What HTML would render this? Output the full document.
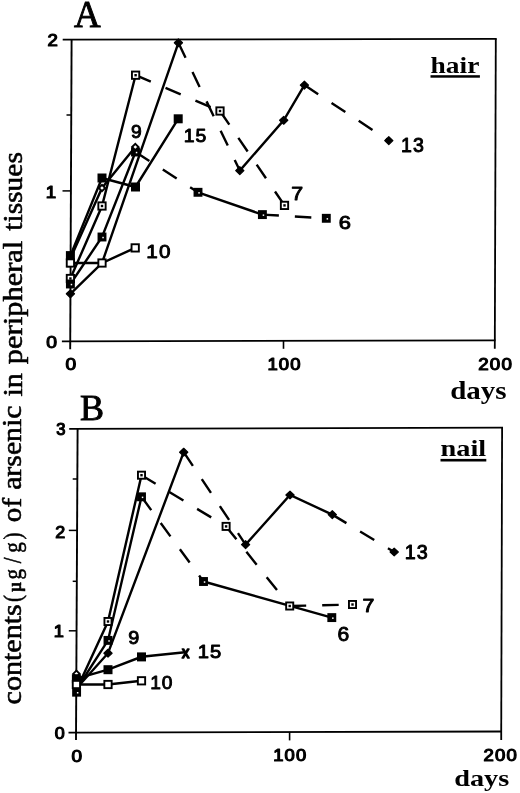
<!DOCTYPE html>
<html lang="en">
<head>
<meta charset="utf-8">
<title>Contents of arsenic in peripheral tissues</title>
<style>
html,body{margin:0;padding:0;background:#fff;}
body{width:520px;height:793px;overflow:hidden;font-family:"Liberation Sans",sans-serif;}
svg{display:block;}
svg text{fill:#000;}
</style>
</head>
<body>
<svg width="520" height="793" viewBox="0 0 520 793">
<rect x="0" y="0" width="520" height="793" fill="#fff"/>
<g stroke="#000" stroke-linecap="butt" fill="none">
<line x1="71.6" y1="39.6" x2="70.2" y2="349.3" stroke-width="1.9"/>
<line x1="62.7" y1="39.7" x2="496.7" y2="38.8" stroke-width="1.8"/>
<line x1="495.8" y1="38.8" x2="494.8" y2="348.8" stroke-width="1.8"/>
<line x1="61.9" y1="341.4" x2="495.5" y2="340.4" stroke-width="1.8"/>
<line x1="62.5" y1="190.9" x2="71" y2="190.9" stroke-width="1.5"/>
<line x1="66.5" y1="115" x2="71" y2="115" stroke-width="1.5"/>
<line x1="66.5" y1="266.5" x2="71" y2="266.5" stroke-width="1.5"/>
<line x1="283.5" y1="340.8" x2="283.5" y2="348.8" stroke-width="1.6"/>
<line x1="77.6" y1="428.6" x2="76.0" y2="740.0" stroke-width="1.9"/>
<line x1="69.2" y1="428.8" x2="503.0" y2="427.7" stroke-width="1.8"/>
<line x1="502.1" y1="427.7" x2="501.2" y2="739.9" stroke-width="1.8"/>
<line x1="68.5" y1="732.7" x2="501.3" y2="731.5" stroke-width="1.8"/>
<line x1="68.8" y1="530.4" x2="77" y2="530.4" stroke-width="1.5"/>
<line x1="68.8" y1="630.8" x2="77" y2="630.8" stroke-width="1.5"/>
<line x1="72.7" y1="479.0" x2="77" y2="479.0" stroke-width="1.5"/>
<line x1="72.7" y1="581.3" x2="77" y2="581.3" stroke-width="1.5"/>
<line x1="72.7" y1="682.0" x2="77" y2="682.0" stroke-width="1.5"/>
<line x1="289.6" y1="731.9" x2="289.6" y2="740.4" stroke-width="1.6"/>
<polyline points="70.4,255.6 102,178 135.5,187 178.2,118.8" fill="none" stroke-width="2.4"/>
<polyline points="70.4,263 102,263 135.2,247.9" fill="none" stroke-width="2.4"/>
<polyline points="70.4,278.5 102,206 135.6,75.2" fill="none" stroke-width="2.4"/>
<polyline points="135.6,75.2 220,111" fill="none" stroke-width="2.4" stroke-dasharray="16.5 16"/>
<polyline points="220,111 284.5,205.4" fill="none" stroke-width="2.4" stroke-dasharray="16.5 16"/>
<polyline points="70.4,284 102,237 135.5,152" fill="none" stroke-width="2.4"/>
<polyline points="135.5,152 198,192.3" fill="none" stroke-width="2.4" stroke-dasharray="16.5 16"/>
<polyline points="198,192.3 262.4,214.6" fill="none" stroke-width="2.4"/>
<polyline points="262.4,214.6 326.3,218.3" fill="none" stroke-width="2.4" stroke-dasharray="16.5 16"/>
<polyline points="70.4,258.5 102,188 135.3,147" fill="none" stroke-width="2.4"/>
<polyline points="70.4,293.8 102,263 178.4,42.8" fill="none" stroke-width="2.4"/>
<polyline points="178.4,42.8 239.8,170.6" fill="none" stroke-width="2.4" stroke-dasharray="16.5 16"/>
<polyline points="239.8,170.6 283.7,120.3 304.4,85.1" fill="none" stroke-width="2.4"/>
<polyline points="304.4,85.1 388.8,140.6" fill="none" stroke-width="2.4" stroke-dasharray="16.5 16"/>
<polygon points="66.30,293.8 70.4,289.90 74.50,293.8 70.4,297.70" fill="#000" stroke="#000" stroke-width="1.2" stroke-linejoin="round"/>
<polygon points="174.30,42.8 178.4,38.90 182.50,42.8 178.4,46.70" fill="#000" stroke="#000" stroke-width="1.2" stroke-linejoin="round"/>
<polygon points="235.70,170.6 239.8,166.70 243.90,170.6 239.8,174.50" fill="#000" stroke="#000" stroke-width="1.2" stroke-linejoin="round"/>
<polygon points="279.60,120.3 283.7,116.40 287.80,120.3 283.7,124.20" fill="#000" stroke="#000" stroke-width="1.2" stroke-linejoin="round"/>
<polygon points="300.30,85.1 304.4,81.20 308.50,85.1 304.4,89.00" fill="#000" stroke="#000" stroke-width="1.2" stroke-linejoin="round"/>
<polygon points="384.70,140.6 388.8,136.70 392.90,140.6 388.8,144.50" fill="#000" stroke="#000" stroke-width="1.2" stroke-linejoin="round"/>
<rect x="66.75" y="274.85" width="7.30" height="7.30" fill="#fff" stroke-width="1.9"/>
<rect x="69.20" y="277.30" width="2.4" height="2.4" fill="#000" stroke="none"/>
<rect x="98.35" y="202.35" width="7.30" height="7.30" fill="#fff" stroke-width="1.9"/>
<rect x="100.80" y="204.80" width="2.4" height="2.4" fill="#000" stroke="none"/>
<rect x="131.95" y="71.55" width="7.30" height="7.30" fill="#fff" stroke-width="1.9"/>
<rect x="134.40" y="74.00" width="2.4" height="2.4" fill="#000" stroke="none"/>
<rect x="216.35" y="107.35" width="7.30" height="7.30" fill="#fff" stroke-width="1.9"/>
<rect x="218.80" y="109.80" width="2.4" height="2.4" fill="#000" stroke="none"/>
<rect x="280.85" y="201.75" width="7.30" height="7.30" fill="#fff" stroke-width="1.9"/>
<rect x="283.30" y="204.20" width="2.4" height="2.4" fill="#000" stroke="none"/>
<rect x="65.95" y="279.55" width="8.9" height="8.9" fill="#000" stroke="none"/>
<rect x="70.70" y="283.80" width="1.5" height="1.5" fill="#fff" stroke="none"/>
<rect x="97.55" y="232.55" width="8.9" height="8.9" fill="#000" stroke="none"/>
<rect x="102.30" y="236.80" width="1.5" height="1.5" fill="#fff" stroke="none"/>
<rect x="131.05" y="147.55" width="8.9" height="8.9" fill="#000" stroke="none"/>
<rect x="135.80" y="151.80" width="1.5" height="1.5" fill="#fff" stroke="none"/>
<rect x="193.55" y="187.85" width="8.9" height="8.9" fill="#000" stroke="none"/>
<rect x="198.30" y="192.10" width="1.5" height="1.5" fill="#fff" stroke="none"/>
<rect x="257.95" y="210.15" width="8.9" height="8.9" fill="#000" stroke="none"/>
<rect x="262.70" y="214.40" width="1.5" height="1.5" fill="#fff" stroke="none"/>
<rect x="321.85" y="213.85" width="8.9" height="8.9" fill="#000" stroke="none"/>
<rect x="326.60" y="218.10" width="1.5" height="1.5" fill="#fff" stroke="none"/>
<polygon points="98.8,188 102,184.8 105.2,188 102,191.2" fill="#fff" stroke-width="1.9"/>
<polygon points="132.10000000000002,147 135.3,143.8 138.5,147 135.3,150.2" fill="#fff" stroke-width="1.9"/>
<rect x="65.90" y="251.10" width="9.0" height="9.0" fill="#000" stroke="none"/>
<rect x="97.50" y="173.50" width="9.0" height="9.0" fill="#000" stroke="none"/>
<rect x="131.00" y="182.50" width="9.0" height="9.0" fill="#000" stroke="none"/>
<rect x="173.70" y="114.30" width="9.0" height="9.0" fill="#000" stroke="none"/>
<rect x="66.75" y="259.35" width="7.30" height="7.30" fill="#fff" stroke-width="1.9"/>
<rect x="98.35" y="259.35" width="7.30" height="7.30" fill="#fff" stroke-width="1.9"/>
<rect x="131.55" y="244.25" width="7.30" height="7.30" fill="#fff" stroke-width="1.9"/>
<polyline points="76.4,678.7 108,669.7 141.5,656.8 185,652.3" fill="none" stroke-width="2.4"/>
<polyline points="76.4,684.5 108,684.5 141.5,680.8" fill="none" stroke-width="2.4"/>
<polyline points="76.4,690 108,621.5 141.5,475.2" fill="none" stroke-width="2.4"/>
<polyline points="141.5,475.2 226.1,526.4" fill="none" stroke-width="2.4" stroke-dasharray="16.5 16"/>
<polyline points="226.1,526.4 289.7,606" fill="none" stroke-width="2.4" stroke-dasharray="16.5 16"/>
<polyline points="289.7,606 352.5,604.5" fill="none" stroke-width="2.4" stroke-dasharray="16.5 16"/>
<polyline points="76.4,689.5 108,640.4 141.5,496.8" fill="none" stroke-width="2.4"/>
<polyline points="141.5,496.8 203.5,581.5" fill="none" stroke-width="2.4" stroke-dasharray="16.5 16"/>
<polyline points="203.5,581.5 331.8,617.6" fill="none" stroke-width="2.4"/>
<polyline points="76.4,688.5 108,653.2 183.7,452.2" fill="none" stroke-width="2.4"/>
<polyline points="183.7,452.2 245.6,544.6" fill="none" stroke-width="2.4" stroke-dasharray="16.5 16"/>
<polyline points="245.6,544.6 290,495 332.3,514.6" fill="none" stroke-width="2.4"/>
<polyline points="332.3,514.6 394.2,552" fill="none" stroke-width="2.4" stroke-dasharray="16.5 16"/>
<polygon points="103.90,653.2 108,649.30 112.10,653.2 108,657.10" fill="#000" stroke="#000" stroke-width="1.2" stroke-linejoin="round"/>
<polygon points="179.60,452.2 183.7,448.30 187.80,452.2 183.7,456.10" fill="#000" stroke="#000" stroke-width="1.2" stroke-linejoin="round"/>
<polygon points="241.50,544.6 245.6,540.70 249.70,544.6 245.6,548.50" fill="#000" stroke="#000" stroke-width="1.2" stroke-linejoin="round"/>
<polygon points="285.90,495 290,491.10 294.10,495 290,498.90" fill="#000" stroke="#000" stroke-width="1.2" stroke-linejoin="round"/>
<polygon points="328.20,514.6 332.3,510.70 336.40,514.6 332.3,518.50" fill="#000" stroke="#000" stroke-width="1.2" stroke-linejoin="round"/>
<polygon points="390.10,552 394.2,548.10 398.30,552 394.2,555.90" fill="#000" stroke="#000" stroke-width="1.2" stroke-linejoin="round"/>
<rect x="104.45" y="617.95" width="7.10" height="7.10" fill="#fff" stroke-width="1.9"/>
<rect x="106.80" y="620.30" width="2.4" height="2.4" fill="#000" stroke="none"/>
<rect x="137.95" y="471.65" width="7.10" height="7.10" fill="#fff" stroke-width="1.9"/>
<rect x="140.30" y="474.00" width="2.4" height="2.4" fill="#000" stroke="none"/>
<rect x="222.55" y="522.85" width="7.10" height="7.10" fill="#fff" stroke-width="1.9"/>
<rect x="224.90" y="525.20" width="2.4" height="2.4" fill="#000" stroke="none"/>
<rect x="286.15" y="602.45" width="7.10" height="7.10" fill="#fff" stroke-width="1.9"/>
<rect x="288.50" y="604.80" width="2.4" height="2.4" fill="#000" stroke="none"/>
<rect x="348.95" y="600.95" width="7.10" height="7.10" fill="#fff" stroke-width="1.9"/>
<rect x="351.30" y="603.30" width="2.4" height="2.4" fill="#000" stroke="none"/>
<rect x="72.15" y="687.75" width="8.9" height="8.9" fill="#000" stroke="none"/>
<rect x="76.90" y="692.00" width="1.5" height="1.5" fill="#fff" stroke="none"/>
<rect x="103.55" y="635.95" width="8.9" height="8.9" fill="#000" stroke="none"/>
<rect x="108.30" y="640.20" width="1.5" height="1.5" fill="#fff" stroke="none"/>
<rect x="137.05" y="492.35" width="8.9" height="8.9" fill="#000" stroke="none"/>
<rect x="141.80" y="496.60" width="1.5" height="1.5" fill="#fff" stroke="none"/>
<rect x="199.05" y="577.05" width="8.9" height="8.9" fill="#000" stroke="none"/>
<rect x="203.80" y="581.30" width="1.5" height="1.5" fill="#fff" stroke="none"/>
<rect x="327.35" y="613.15" width="8.9" height="8.9" fill="#000" stroke="none"/>
<rect x="332.10" y="617.40" width="1.5" height="1.5" fill="#fff" stroke="none"/>
<polygon points="73.2,673.8 76.4,670.5999999999999 79.60000000000001,673.8 76.4,677.0" fill="#fff" stroke-width="1.9"/>
<rect x="71.90" y="674.20" width="9.0" height="9.0" fill="#000" stroke="none"/>
<rect x="103.50" y="665.20" width="9.0" height="9.0" fill="#000" stroke="none"/>
<rect x="137.00" y="652.40" width="9.0" height="9.0" fill="#000" stroke="none"/>
<rect x="72.75" y="680.85" width="7.30" height="7.30" fill="#fff" stroke-width="1.9"/>
<rect x="104.35" y="680.85" width="7.30" height="7.30" fill="#fff" stroke-width="1.9"/>
<rect x="137.85" y="677.15" width="7.30" height="7.30" fill="#fff" stroke-width="1.9"/>
<rect x="430.5" y="75.2" width="49.4" height="2.5" fill="#000" stroke="none"/>
<rect x="440.5" y="458.9" width="45.8" height="2.6" fill="#000" stroke="none"/>
</g>
<g>
<text transform="matrix(1.1215 0 0 1 47.47 46.33)" font-family="'Liberation Sans', sans-serif" font-size="16.57" stroke="#000" stroke-width="1.15" stroke-linejoin="round">2</text>
<text transform="matrix(1.1200 0 0 1 45.64 198.12)" font-family="'Liberation Sans', sans-serif" font-size="16.71" stroke="#000" stroke-width="1.15" stroke-linejoin="round">1</text>
<text transform="matrix(1.1710 0 0 1 46.37 348.17)" font-family="'Liberation Sans', sans-serif" font-size="16.49" stroke="#000" stroke-width="1.15" stroke-linejoin="round">0</text>
<text transform="matrix(1.1518 0 0 1 65.46 370.17)" font-family="'Liberation Sans', sans-serif" font-size="16.63" stroke="#000" stroke-width="1.15" stroke-linejoin="round">0</text>
<text transform="matrix(1.1192 0 0 1 267.39 369.97)" font-family="'Liberation Sans', sans-serif" font-size="16.49" letter-spacing="1.0" stroke="#000" stroke-width="1.15" stroke-linejoin="round">100</text>
<text transform="matrix(1.1366 0 0 1 478.28 369.57)" font-family="'Liberation Sans', sans-serif" font-size="16.49" letter-spacing="1.0" stroke="#000" stroke-width="1.15" stroke-linejoin="round">200</text>
<text transform="matrix(1.0298 0 0 1 56.27 435.37)" font-family="'Liberation Sans', sans-serif" font-size="16.07" stroke="#000" stroke-width="1.15" stroke-linejoin="round">3</text>
<text transform="matrix(1.0304 0 0 1 55.35 537.73)" font-family="'Liberation Sans', sans-serif" font-size="17.42" stroke="#000" stroke-width="1.15" stroke-linejoin="round">2</text>
<text transform="matrix(1.1200 0 0 1 53.68 637.43)" font-family="'Liberation Sans', sans-serif" font-size="16.28" stroke="#000" stroke-width="1.15" stroke-linejoin="round">1</text>
<text transform="matrix(1.0859 0 0 1 54.86 739.17)" font-family="'Liberation Sans', sans-serif" font-size="16.49" stroke="#000" stroke-width="1.15" stroke-linejoin="round">0</text>
<text transform="matrix(1.1413 0 0 1 71.56 761.97)" font-family="'Liberation Sans', sans-serif" font-size="16.63" stroke="#000" stroke-width="1.15" stroke-linejoin="round">0</text>
<text transform="matrix(1.1158 0 0 1 273.19 761.47)" font-family="'Liberation Sans', sans-serif" font-size="16.49" letter-spacing="1.0" stroke="#000" stroke-width="1.15" stroke-linejoin="round">100</text>
<text transform="matrix(1.1230 0 0 1 483.58 760.77)" font-family="'Liberation Sans', sans-serif" font-size="16.49" letter-spacing="1.0" stroke="#000" stroke-width="1.15" stroke-linejoin="round">200</text>
<text transform="matrix(1.0286 0 0 1 131.09 138.03)" font-family="'Liberation Sans', sans-serif" font-size="18.71" stroke="#000" stroke-width="0.95" stroke-linejoin="round">9</text>
<text transform="matrix(1.0297 0 0 1 183.68 142.23)" font-family="'Liberation Sans', sans-serif" font-size="18.85" letter-spacing="1.0" stroke="#000" stroke-width="0.95" stroke-linejoin="round">15</text>
<text transform="matrix(1.0809 0 0 1 146.32 257.53)" font-family="'Liberation Sans', sans-serif" font-size="19.13" letter-spacing="1.0" stroke="#000" stroke-width="0.95" stroke-linejoin="round">10</text>
<text transform="matrix(1.1346 0 0 1 291.14 199.53)" font-family="'Liberation Sans', sans-serif" font-size="18.84" stroke="#000" stroke-width="0.95" stroke-linejoin="round">7</text>
<text transform="matrix(1.1648 0 0 1 338.82 228.73)" font-family="'Liberation Sans', sans-serif" font-size="18.85" stroke="#000" stroke-width="0.95" stroke-linejoin="round">6</text>
<text transform="matrix(1.0010 0 0 1 401.05 151.72)" font-family="'Liberation Sans', sans-serif" font-size="19.55" letter-spacing="1.0" stroke="#000" stroke-width="0.95" stroke-linejoin="round">13</text>
<text transform="matrix(1.0386 0 0 1 128.26 643.73)" font-family="'Liberation Sans', sans-serif" font-size="19.13" stroke="#000" stroke-width="0.95" stroke-linejoin="round">9</text>
<text transform="matrix(0.8652 0 0 1 181.94 657.65)" font-family="'Liberation Sans', sans-serif" font-size="16.94" stroke="#000" stroke-width="1.7" stroke-linejoin="round">x</text>
<text transform="matrix(1.0798 0 0 1 197.75 658.43)" font-family="'Liberation Sans', sans-serif" font-size="18.71" letter-spacing="1.0" stroke="#000" stroke-width="0.95" stroke-linejoin="round">15</text>
<text transform="matrix(0.9954 0 0 1 150.17 689.42)" font-family="'Liberation Sans', sans-serif" font-size="19.27" letter-spacing="1.0" stroke="#000" stroke-width="0.95" stroke-linejoin="round">10</text>
<text transform="matrix(1.0102 0 0 1 404.85 559.02)" font-family="'Liberation Sans', sans-serif" font-size="19.55" letter-spacing="1.0" stroke="#000" stroke-width="0.95" stroke-linejoin="round">13</text>
<text transform="matrix(1.1424 0 0 1 362.44 611.73)" font-family="'Liberation Sans', sans-serif" font-size="18.70" stroke="#000" stroke-width="0.95" stroke-linejoin="round">7</text>
<text transform="matrix(1.0778 0 0 1 337.42 640.92)" font-family="'Liberation Sans', sans-serif" font-size="19.55" stroke="#000" stroke-width="0.95" stroke-linejoin="round">6</text>
<text x="74.03" y="27.00" font-family="'Liberation Serif', serif" font-weight="normal" font-size="36.91" stroke="#000" stroke-width="0.9" stroke-linejoin="miter">A</text>
<text x="79.96" y="420.24" font-family="'Liberation Serif', serif" font-weight="normal" font-size="36.02" stroke="#000" stroke-width="0.9" stroke-linejoin="miter">B</text>
<text transform="matrix(1.1675 0 0 1 430.57 72.70)" font-family="'Liberation Serif', serif" font-weight="bold" font-size="23.51">hair</text>
<text transform="matrix(1.1777 0 0 1 440.56 456.30)" font-family="'Liberation Serif', serif" font-weight="bold" font-size="24.07">nail</text>
<text transform="matrix(1.1574 0 0 1 450.19 398.80)" font-family="'Liberation Serif', serif" font-weight="bold" font-size="25.06">days</text>
<text transform="matrix(1.1759 0 0 1 454.22 785.70)" font-family="'Liberation Serif', serif" font-weight="bold" font-size="24.08">days</text>
<text transform="matrix(0 -1.1356 1 0 20.66 704.47)" font-family="'Liberation Serif', serif" font-size="26.5" stroke="#000" stroke-width="0.55" stroke-linejoin="round">contents</text>
<text transform="matrix(0 -1.0984 1 0 21.17 522.13)" font-family="'Liberation Serif', serif" font-size="26.5" stroke="#000" stroke-width="0.55" stroke-linejoin="round">of</text>
<text transform="matrix(0 -1.1253 1 0 21.38 489.86)" font-family="'Liberation Serif', serif" font-size="26.5" stroke="#000" stroke-width="0.55" stroke-linejoin="round">arsenic</text>
<text transform="matrix(0 -1.1461 1 0 21.60 396.60)" font-family="'Liberation Serif', serif" font-size="26.5" stroke="#000" stroke-width="0.55" stroke-linejoin="round">in</text>
<text transform="matrix(0 -1.1507 1 0 21.89 364.20)" font-family="'Liberation Serif', serif" font-size="26.5" stroke="#000" stroke-width="0.55" stroke-linejoin="round">peripheral</text>
<text transform="matrix(0 -1.1125 1 0 22.28 230.72)" font-family="'Liberation Serif', serif" font-size="26.5" stroke="#000" stroke-width="0.55" stroke-linejoin="round">tissues</text>
<text transform="matrix(0 -0.860 1 0 20.97 602.00)" x="-0.14 11.92 26.13 44.93 57.17 72.72" y="0" font-family="'Liberation Serif', serif" font-size="24.5" stroke="#000" stroke-width="0.55" stroke-linejoin="round">(<tspan font-size="19.5" font-weight="bold">μ</tspan>g/g)</text>
</g>
</svg>
</body>
</html>
